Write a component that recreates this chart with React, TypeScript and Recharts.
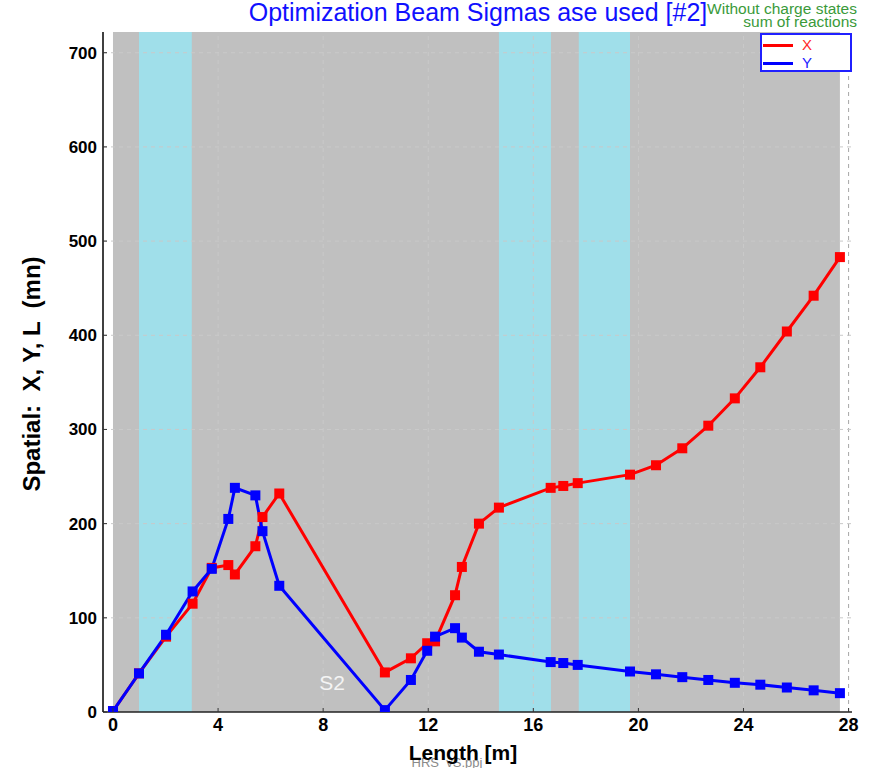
import React from 'react';
import {
  ComposedChart,
  Line,
  XAxis,
  YAxis,
  ReferenceArea,
  ReferenceLine,
  ReferenceDot,
  Legend,
} from 'recharts';

// Beam envelope along the lattice (length in m, sigma in mm)
const lengths = [
  0, 0.99, 2.02, 3.03, 3.76, 4.39, 4.64, 5.42, 5.69, 6.33, 10.35, 11.34, 11.96, 12.26, 13.02,
  13.28, 13.93, 14.69, 16.66, 17.14, 17.69, 19.68, 20.67, 21.67, 22.66, 23.67, 24.64, 25.65,
  26.67, 27.67,
];
const sigmaX = [
  1, 41, 80, 115, 153, 156, 146, 176, 207, 232, 42, 57, 73, 75, 124, 154, 200, 217, 238, 240,
  243, 252, 262, 280, 304, 333, 366, 404, 442, 483,
];
const sigmaY = [
  1, 41, 82, 128, 152, 205, 238, 230, 192, 134, 2, 34, 65, 80, 89, 79, 64, 61, 53, 52, 50, 43,
  40, 37, 34, 31, 29, 26, 23, 20,
];

const xTicks = [0, 4, 8, 12, 16, 20, 24, 28];
const yTicks = [0, 100, 200, 300, 400, 500, 600, 700];

// Element regions drawn behind the envelope
const latticeSpan: [number, number] = [0, 27.67];
const apertureBands: [number, number][] = [
  [0.99, 3.0],
  [14.69, 16.67],
  [17.73, 19.68],
];
const elementLabel = { s: 8.34, sigma: 23, text: 'S2' };

const xDomain: [number, number] = [-0.38, 28.13];
const yDomain: [number, number] = [0, 722];

const rows = lengths.map((s, i) => ({ s, X: sigmaX[i], Y: sigmaY[i] }));

const FONT = '"Liberation Sans", Arial, Helvetica, sans-serif';
const GRAY_BG = '#c0c0c0';
const CYAN = '#a0dfea';
const GRID = '#c9c9c9';

const squareDot = (color: string) => (props: any) => {
  const { cx, cy, index } = props;
  if (cx == null || cy == null) return <g key={`d-${index}`} />;
  return <rect key={`d-${index}`} x={cx - 5} y={cy - 5} width={10} height={10} fill={color} />;
};

const BottomTick = (props: any) => {
  const { x, y, payload } = props;
  return (
    <g>
      <line x1={x} y1={y} x2={x} y2={y - 4} stroke="#333" strokeWidth={1} />
      <text
        x={x}
        y={y + 19}
        textAnchor="middle"
        fontFamily={FONT}
        fontWeight="bold"
        fontSize={18}
        fill="#000"
      >
        {payload.value}
      </text>
    </g>
  );
};

const LeftTick = (props: any) => {
  const { x, y, payload } = props;
  return (
    <g>
      <line x1={x} y1={y} x2={x + 4} y2={y} stroke="#333" strokeWidth={1} />
      <text
        x={x - 6}
        y={y + 6}
        textAnchor="end"
        fontFamily={FONT}
        fontWeight="bold"
        fontSize={17}
        fill="#000"
      >
        {payload.value}
      </text>
    </g>
  );
};

const LegendBox = () => (
  <div
    style={{
      width: 88,
      height: 35,
      background: '#fff',
      border: '2px solid #2020ff',
      fontFamily: FONT,
      fontSize: 15,
      position: 'relative',
    }}
  >
    <div style={{ position: 'absolute', left: 1, top: 9, width: 30, height: 3, background: '#ff0000' }} />
    <div style={{ position: 'absolute', left: 40, top: 2, color: '#ff2a2a', lineHeight: '15px' }}>X</div>
    <div style={{ position: 'absolute', left: 1, top: 27, width: 30, height: 3, background: '#0000ff' }} />
    <div style={{ position: 'absolute', left: 40, top: 20, color: '#1a1aff', lineHeight: '15px' }}>Y</div>
  </div>
);

const S2Label = (props: any) => {
  const { cx, cy } = props;
  if (cx == null) return <g />;
  return (
    <text x={cx} y={cy} textAnchor="middle" fontFamily={FONT} fontSize={21} fill="#f4f4f4">
      {elementLabel.text}
    </text>
  );
};

export default function App() {
  return (
    <div style={{ position: 'absolute', left: 0, top: 0, width: 870, height: 768, background: '#fff' }}>
      <ComposedChart
        width={870}
        height={768}
        data={rows}
        margin={{ top: 32, right: 18, bottom: 0, left: 0 }}
      >
        <XAxis
          xAxisId="s"
          dataKey="s"
          type="number"
          domain={xDomain}
          ticks={xTicks}
          allowDataOverflow
          height={56}
          tickSize={0}
          tickMargin={0}
          tick={<BottomTick />}
          axisLine={{ stroke: '#222', strokeWidth: 1.5 }}
          tickLine={false}
        />
        <XAxis
          xAxisId="top"
          orientation="top"
          type="number"
          domain={xDomain}
          allowDataOverflow
          height={0}
          tick={false}
          tickLine={false}
          axisLine={{ stroke: '#000', strokeWidth: 1.5 }}
        />
        <YAxis
          yAxisId="sigma"
          type="number"
          domain={yDomain}
          ticks={yTicks}
          allowDataOverflow
          width={103}
          tickSize={0}
          tickMargin={0}
          tick={<LeftTick />}
          axisLine={{ stroke: '#000', strokeWidth: 1.5 }}
          tickLine={false}
        />
        <YAxis
          yAxisId="right"
          orientation="right"
          type="number"
          domain={yDomain}
          allowDataOverflow
          width={0}
          tick={false}
          tickLine={false}
          axisLine={{ stroke: '#000', strokeWidth: 2 }}
        />

        <ReferenceArea
          xAxisId="s"
          yAxisId="sigma"
          x1={latticeSpan[0]}
          x2={latticeSpan[1]}
          y1={yDomain[0]}
          y2={yDomain[1]}
          fill={GRAY_BG}
          fillOpacity={1}
          stroke="none"
        />
        {apertureBands.map(([a, b], i) => (
          <ReferenceArea
            key={`band-${i}`}
            xAxisId="s"
            yAxisId="sigma"
            x1={a}
            x2={b}
            y1={yDomain[0]}
            y2={yDomain[1]}
            fill={CYAN}
            fillOpacity={1}
            stroke="none"
          />
        ))}
        {xTicks.slice(1).map((t) => (
          <ReferenceLine
            key={`gx-${t}`}
            xAxisId="s"
            yAxisId="sigma"
            x={t}
            stroke={t === 28 ? '#a8a8a8' : GRID}
            strokeDasharray="4 4"
            strokeWidth={1}
          />
        ))}
        {yTicks.slice(1).map((t) => (
          <ReferenceLine
            key={`gy-${t}`}
            xAxisId="s"
            yAxisId="sigma"
            y={t}
            stroke={GRID}
            strokeDasharray="4 4"
            strokeWidth={1}
          />
        ))}

        <Line
          xAxisId="s"
          yAxisId="sigma"
          dataKey="X"
          name="X"
          type="linear"
          stroke="#ff0000"
          strokeWidth={3}
          dot={squareDot('#ff0000')}
          activeDot={false}
          isAnimationActive={false}
        />
        <Line
          xAxisId="s"
          yAxisId="sigma"
          dataKey="Y"
          name="Y"
          type="linear"
          stroke="#0000ff"
          strokeWidth={3}
          dot={squareDot('#0000ff')}
          activeDot={false}
          isAnimationActive={false}
        />

        <ReferenceDot
          xAxisId="s"
          yAxisId="sigma"
          x={elementLabel.s}
          y={elementLabel.sigma}
          shape={<S2Label />}
        />

        <Legend
          layout="vertical"
          align="center"
          verticalAlign="middle"
          content={<LegendBox />}
          wrapperStyle={{ position: 'absolute', left: 760, top: 33, width: 92, margin: 0 }}
        />
      </ComposedChart>

      <svg
        width={870}
        height={768}
        style={{ position: 'absolute', left: 0, top: 0, pointerEvents: 'none' }}
      >
        <text x={478} y={21} textAnchor="middle" fontFamily={FONT} fontSize={25} fill="#1010ff">
          Optimization Beam Sigmas ase used [#2]
        </text>
        <text x={857} y={14} textAnchor="end" fontFamily={FONT} fontSize={15.5} fill="#3a9a3a">
          Without charge states
        </text>
        <text x={857} y={27} textAnchor="end" fontFamily={FONT} fontSize={15.5} fill="#3a9a3a">
          sum of reactions
        </text>
        <text
          transform="translate(40,374) rotate(-90)"
          textAnchor="middle"
          fontFamily={FONT}
          fontWeight="bold"
          fontSize={24}
          fill="#000"
          style={{ whiteSpace: 'pre' }}
        >
          {'Spatial:  X, Y, L  (mn)'}
        </text>
        <text x={447} y={767} textAnchor="middle" fontFamily={FONT} fontSize={13} fill="#8a8a8a" style={{ whiteSpace: 'pre' }}>
          {'HRS  vS.ppj'}
        </text>
        <text x={463} y={760} textAnchor="middle" fontFamily={FONT} fontWeight="bold" fontSize={21} fill="#000">
          Length [m]
        </text>
      </svg>
    </div>
  );
}
